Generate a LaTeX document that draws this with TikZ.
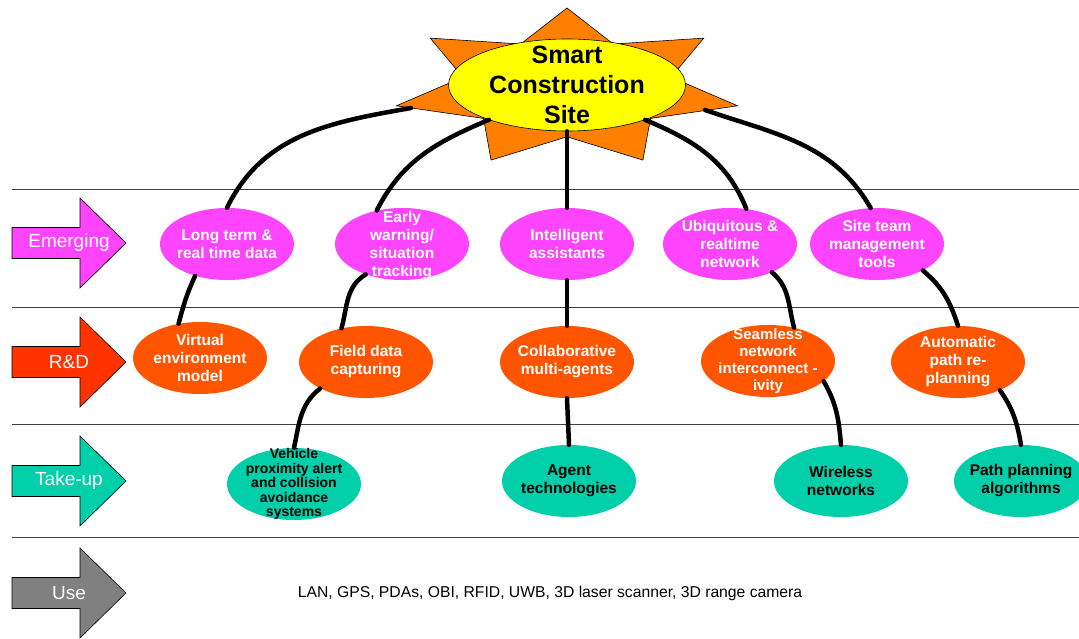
\documentclass[tikz,border=0pt]{standalone}
\usepackage{fontspec}
\setmainfont{Liberation Sans}
\usepackage{xcolor}
\usetikzlibrary{shapes.geometric}

\definecolor{emergepink}{HTML}{FF44FF}
\definecolor{rdred}{HTML}{FF3300}
\definecolor{rdorange}{HTML}{FF5500}
\definecolor{takeupteal}{HTML}{00CFAA}
\definecolor{usegray}{HTML}{808080}
\definecolor{sunorange}{HTML}{FF8000}
\definecolor{sunyellow}{HTML}{FFFF00}
\definecolor{rulegray}{HTML}{404040}

\tikzset{
  bubble/.style={ellipse, minimum width=134pt, minimum height=72pt, inner sep=0pt},
  emerge/.style={bubble, fill=emergepink},
  research/.style={bubble, fill=rdorange},
  takeup/.style={bubble, fill=takeupteal},
  bubbletext/.style={align=center, inner sep=0pt, font=\bfseries\fontsize{15.5}{18}\selectfont},
  lighttext/.style={bubbletext, text=white},
  darktext/.style={bubbletext, text=black},
  sunbody/.style={ellipse, fill=sunyellow, draw=black, line width=0.6pt, minimum width=237pt, minimum height=92pt, inner sep=0pt},
  suntext/.style={align=center, inner sep=0pt, font=\bfseries\fontsize{25}{30}\selectfont},
  link/.style={line width=4.5pt, line cap=round},
  stagearrow/.style={draw=black, line width=0.6pt},
  stagetext/.style={text=white, inner sep=0pt, font=\fontsize{19}{22}\selectfont},
}

\begin{document}
\begin{tikzpicture}[x=1pt,y=1pt]
\useasboundingbox (0,0) rectangle (1079,-639);
\fill[white] (0,0) rectangle (1079,-639);

\foreach \y in {189,307,424,537}
  \draw[rulegray, line width=0.8pt] (12,-\y) -- (1079,-\y);

% stage arrows on the left
\foreach \y/\col/\nm/\txt in {243/emergepink/emerging/Emerging, 362/rdred/rd/R\&D, 481/takeupteal/takeup/Take-up, 593/usegray/use/Use}{
  \draw[stagearrow, fill=\col] (12,-\y+15.5) -- (80,-\y+15.5) -- (80,-\y+45) -- (126,-\y) -- (80,-\y-45) -- (80,-\y-15.5) -- (12,-\y-15.5) -- cycle;
  \node[stagetext] (\nm) at (69,-\y) {\txt};
}

% the sun
\filldraw[fill=sunorange, draw=black, line width=0.6pt] (567,-8)
  \foreach \k in {1,...,7}{
    -- ({567+106.75*cos(90-\k*51.4286+25.7143)},{-88+48.8*sin(90-\k*51.4286+25.7143)})
    -- ({567+175*cos(90-\k*51.4286)},{-88+80*sin(90-\k*51.4286)})
  } -- cycle;
\node[sunbody] (sun) at (567,-85) {};
\node[suntext] (sun-t) at (sun) {Smart\\Construction\\Site};
\coordinate (sun-w) at (411,-108);
\coordinate (sun-e) at (705,-110);

\node[emerge] (longterm) at (227,-244) {};
\node[emerge] (earlywarn) at (402,-244) {};
\node[emerge] (intelligent) at (567,-244) {};
\node[emerge] (ubiquitous) at (730,-244) {};
\node[emerge] (siteteam) at (877,-244) {};

\node[research] (virtual) at (200,-358) {};
\node[research] (fielddata) at (366,-362) {};
\node[research] (collab) at (567,-362) {};
\node[research] (seamless) at (768,-361) {};
\node[research] (autopath) at (958,-362) {};

\node[takeup] (vehicle) at (294,-484) {};
\node[takeup] (agent) at (569,-481) {};
\node[takeup] (wireless) at (841,-481) {};
\node[takeup] (pathplan) at (1021,-481) {};

\draw[link] (sun-w) to[out=190, in=64] (longterm.north);
\draw[link] (sun.204) to[out=203, in=63] (earlywarn.127);
\draw[link] (sun.south) -- (intelligent.north);
\draw[link] (sun.-24) to[out=-23, in=112] (ubiquitous.65);
\draw[link] (sun-e) to[out=-19, in=120] (siteteam.100);

\draw[link] (longterm.225) to[out=245, in=75] (virtual.122);
\draw[link] (earlywarn.220) to[out=211, in=75] (fielddata.126);
\draw[link] (intelligent.south) -- (collab.north);
\draw[link] (ubiquitous.-34) to[out=-40, in=105] (seamless.52);
\draw[link] (siteteam.-30) to[out=-40, in=108] (autopath.north);

\draw[link] (fielddata.210) to[out=218, in=78] (vehicle.north);
\draw[link] (collab.south) -- (agent.north);
\draw[link] (seamless.-20) to[out=-60, in=95] (wireless.north);
\draw[link] (autopath.-34) to[out=-55, in=100] (pathplan.north);

\node[lighttext] (longterm-t) at (longterm) {Long term \&\\real time data};
\node[lighttext] (earlywarn-t) at (402,-246) {Early\\warning/\\situation\\tracking};
\node[lighttext] (intelligent-t) at (intelligent) {Intelligent\\assistants};
\node[lighttext] (ubiquitous-t) at (ubiquitous) {Ubiquitous \&\\realtime\\network};
\node[lighttext] (siteteam-t) at (siteteam) {Site team\\management\\tools};

\node[lighttext] (virtual-t) at (virtual) {Virtual\\environment\\model};
\node[lighttext] (fielddata-t) at (fielddata) {Field data\\capturing};
\node[lighttext] (collab-t) at (collab) {Collaborative\\multi-agents};
\node[lighttext, font=\bfseries\fontsize{15}{17}\selectfont] (seamless-t) at (seamless) {Seamless\\network\\interconnect -\\ivity};
\node[lighttext] (autopath-t) at (autopath) {Automatic\\path re-\\planning};

\node[darktext, font=\bfseries\fontsize{14}{14.5}\selectfont] (vehicle-t) at (vehicle) {Vehicle\\proximity alert\\and collision\\avoidance\\systems};
\node[darktext] (agent-t) at (agent) {Agent\\technologies};
\node[darktext] (wireless-t) at (wireless) {Wireless\\networks};
\node[darktext] (pathplan-t) at (pathplan) {Path planning\\algorithms};

\node[inner sep=0pt, font=\fontsize{15.7}{18}\selectfont] (usetools) at (550,-593) {LAN, GPS, PDAs, OBI, RFID, UWB, 3D laser scanner, 3D range camera};
\end{tikzpicture}
\end{document}
